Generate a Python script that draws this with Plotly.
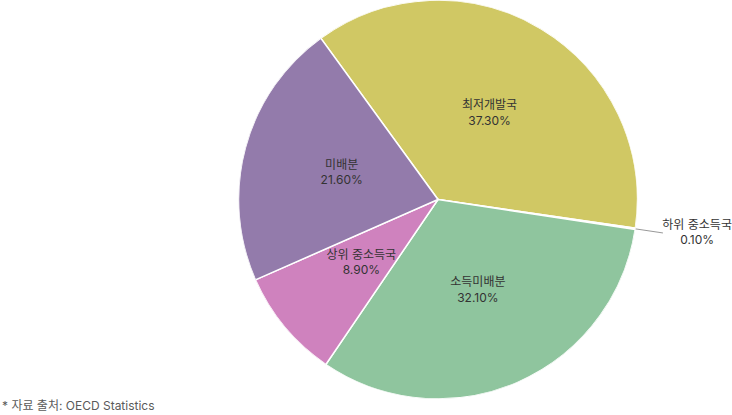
import math
import plotly.graph_objects as go

labels = ["최저개발국", "하위 중소득국", "소득미배분", "상위 중소득국", "미배분"]
values = [37.3, 0.1, 32.1, 8.9, 21.6]
colors = ["#d0c864", "#e8a060", "#8fc59e", "#cf82be", "#937bab"]
start_angle = -36  # first slice starts a bit left of 12 o'clock

# slice widths and mid angles (clockwise from top)
total = sum(values)
widths = [360 * v / total for v in values]
mids = []
cum = 0
for v in values:
    mids.append(start_angle + 360 * (cum + v / 2) / total)
    cum += v
texts = [f"{l}<br>{v / total * 100:.2f}%" for l, v in zip(labels, values)]
small = [i for i, v in enumerate(values) if v / total < 0.01]
big = [i for i in range(len(values)) if i not in small]

W, H, B = 732, 415, 16
dom_x = [0.3258, 0.8709]
dom_y = [0, 1]

fig = go.Figure()
# pie drawn as polar wedges so the labels can sit on top of it
fig.add_trace(go.Barpolar(
    r=[1] * len(values), theta=mids, width=widths,
    marker=dict(color=colors, line=dict(color="white", width=1.5)),
    customdata=texts, hovertemplate="%{customdata}<extra></extra>",
    showlegend=False,
))

# labels inside slices, at half radius
fig.add_trace(go.Scatterpolar(
    r=[0.5] * len(big), theta=[mids[i] for i in big],
    text=[texts[i] for i in big], mode="text",
    textfont=dict(size=12, color="#333333"),
    showlegend=False, hoverinfo="skip",
))

# tiny slice: leader line + label outside the pie, on a hidden x/y plane
# whose unit equals the pie radius (polar clips anything past r=1)
for i in small:
    a = math.radians(mids[i])
    ta = math.radians(mids[i] - 1)
    fig.add_trace(go.Scatter(
        x=[1.0 * math.sin(a), 1.14 * math.sin(a)],
        y=[1.0 * math.cos(a), 1.14 * math.cos(a)],
        mode="lines", line=dict(color="#999999", width=1),
        showlegend=False, hoverinfo="skip",
    ))
    fig.add_trace(go.Scatter(
        x=[1.31 * math.sin(ta)], y=[1.31 * math.cos(ta)],
        text=[texts[i]], mode="text",
        textfont=dict(size=12, color="#333333"),
        cliponaxis=False, showlegend=False, hoverinfo="skip",
    ))

plot_h = H - B
rad = min((dom_x[1] - dom_x[0]) * W, plot_h) / 2
cx = (dom_x[0] + dom_x[1]) / 2 * W

fig.add_annotation(text="* 자료 출처: OECD Statistics", xref="paper", yref="paper",
                   x=0, y=0, xanchor="left", yanchor="bottom", yshift=-B,
                   showarrow=False, font=dict(size=12, color="#5a5a5a"))

fig.update_layout(
    width=W, height=H,
    margin=dict(l=0, r=0, t=0, b=B),
    font=dict(family="Inter, Noto Sans CJK KR, sans-serif"),
    paper_bgcolor="white", plot_bgcolor="rgba(0,0,0,0)",
    xaxis=dict(range=[-cx / rad, (W - cx) / rad], visible=False, fixedrange=True),
    yaxis=dict(range=[-plot_h / 2 / rad, plot_h / 2 / rad], visible=False, fixedrange=True),
    polar=dict(
        domain=dict(x=dom_x, y=dom_y),
        bgcolor="rgba(0,0,0,0)",
        bargap=0,
        radialaxis=dict(range=[0, 1], visible=False),
        angularaxis=dict(rotation=90, direction="clockwise", visible=False),
    ),
)

# page body default margin would push the figure 8px down/right
fig.write_html("out.html", config={"displayModeBar": False},
               post_script="document.body.style.margin='0';")
